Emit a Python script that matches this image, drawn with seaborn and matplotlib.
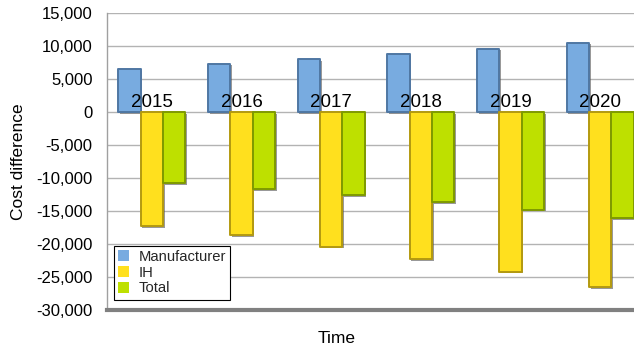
import matplotlib
matplotlib.use("Agg")
import matplotlib.pyplot as plt
import matplotlib.patheffects as pe
from matplotlib.ticker import FuncFormatter
import seaborn as sns
import pandas as pd

years = ["2015", "2016", "2017", "2018", "2019", "2020"]
series_names = ["Manufacturer", "IH", "Total"]
manufacturer = [6500, 7300, 8000, 8800, 9600, 10500]
ih = [-17300, -18700, -20400, -22300, -24200, -26500]
total = [-10800, -11700, -12600, -13700, -14800, -16100]
yticks = [15000, 10000, 5000, 0, -5000, -10000, -15000, -20000, -25000, -30000]

colors = ["#78abe0", "#ffe01e", "#bee000"]
edges = ["#4f77a3", "#b39a10", "#7f9a00"]

df = pd.DataFrame({
    "Year": years * 3,
    "Series": sum([[s] * len(years) for s in series_names], []),
    "Value": manufacturer + ih + total,
})

sns.set_theme(style="white")
plt.rcParams["font.family"] = ["Liberation Sans", "DejaVu Sans"]

W, H = 634, 349
fig = plt.figure(figsize=(W / 100, H / 100), dpi=100)
left_px, right_px, top_px, bot_px = 107, 645, 13, 310
ax = fig.add_axes([left_px / W, 1 - bot_px / H, (right_px - left_px) / W, (bot_px - top_px) / H])

sns.barplot(data=df, x="Year", y="Value", hue="Series", hue_order=series_names,
            order=years, palette=colors, saturation=1, width=0.75, ax=ax,
            zorder=3, legend=True)

for ci, cont in enumerate(ax.containers):
    for bar in cont:
        bar.set_edgecolor(edges[ci])
        bar.set_linewidth(1.4)
        bar.set_joinstyle("round")
        bar.set_path_effects([pe.SimplePatchShadow(offset=(1.2, -1.2), shadow_rgbFace="#555555", alpha=0.6),
                              pe.Normal()])

ax.set_ylim(-30000, 15000)
ax.set_xlim(-0.5, 5.5)
ax.set_yticks(yticks)
ax.yaxis.set_major_formatter(FuncFormatter(lambda v, p: f"{int(v):,}"))
ax.tick_params(axis="y", labelsize=12, length=3, width=0.8,
               direction="inout", pad=9, color="#a0a0a0", labelcolor="black")
ax.set_xticks([])
ax.grid(axis="y", color="#b3b3b3", linewidth=1, zorder=0)
ax.set_axisbelow(True)

for s in ["top", "right"]:
    ax.spines[s].set_visible(False)
ax.spines["left"].set_color("#a0a0a0")
ax.spines["left"].set_linewidth(1.0)
ax.spines["bottom"].set_color("#808080")
ax.spines["bottom"].set_linewidth(3)

for i, yr in enumerate(years):
    ax.annotate(yr, xy=(i, 0), xytext=(0, 3.6), textcoords="offset points",
                ha="center", va="baseline", fontsize=13.5, color="black", zorder=5)

ax.set_ylabel("Cost difference", fontsize=12.5, color="black", labelpad=7)
ax.set_xlabel("Time", fontsize=12.5, color="black")
ax.xaxis.set_label_coords((337 - left_px) / (right_px - left_px), -0.07)

handles, labels = ax.get_legend_handles_labels()
for h in handles:
    h.set_edgecolor("none")
    h.set_path_effects([])
leg = ax.legend(handles, labels, loc="lower left", bbox_to_anchor=(0.013, 0.034),
                fontsize=10.6, frameon=True, fancybox=False, framealpha=1,
                edgecolor="black", handlelength=0.75, handleheight=0.75,
                handletextpad=0.6, labelspacing=0.12, borderpad=0.3, borderaxespad=0)
leg.get_frame().set_linewidth(0.8)
leg.set_zorder(6)

fig.savefig("out.png", dpi=100)
